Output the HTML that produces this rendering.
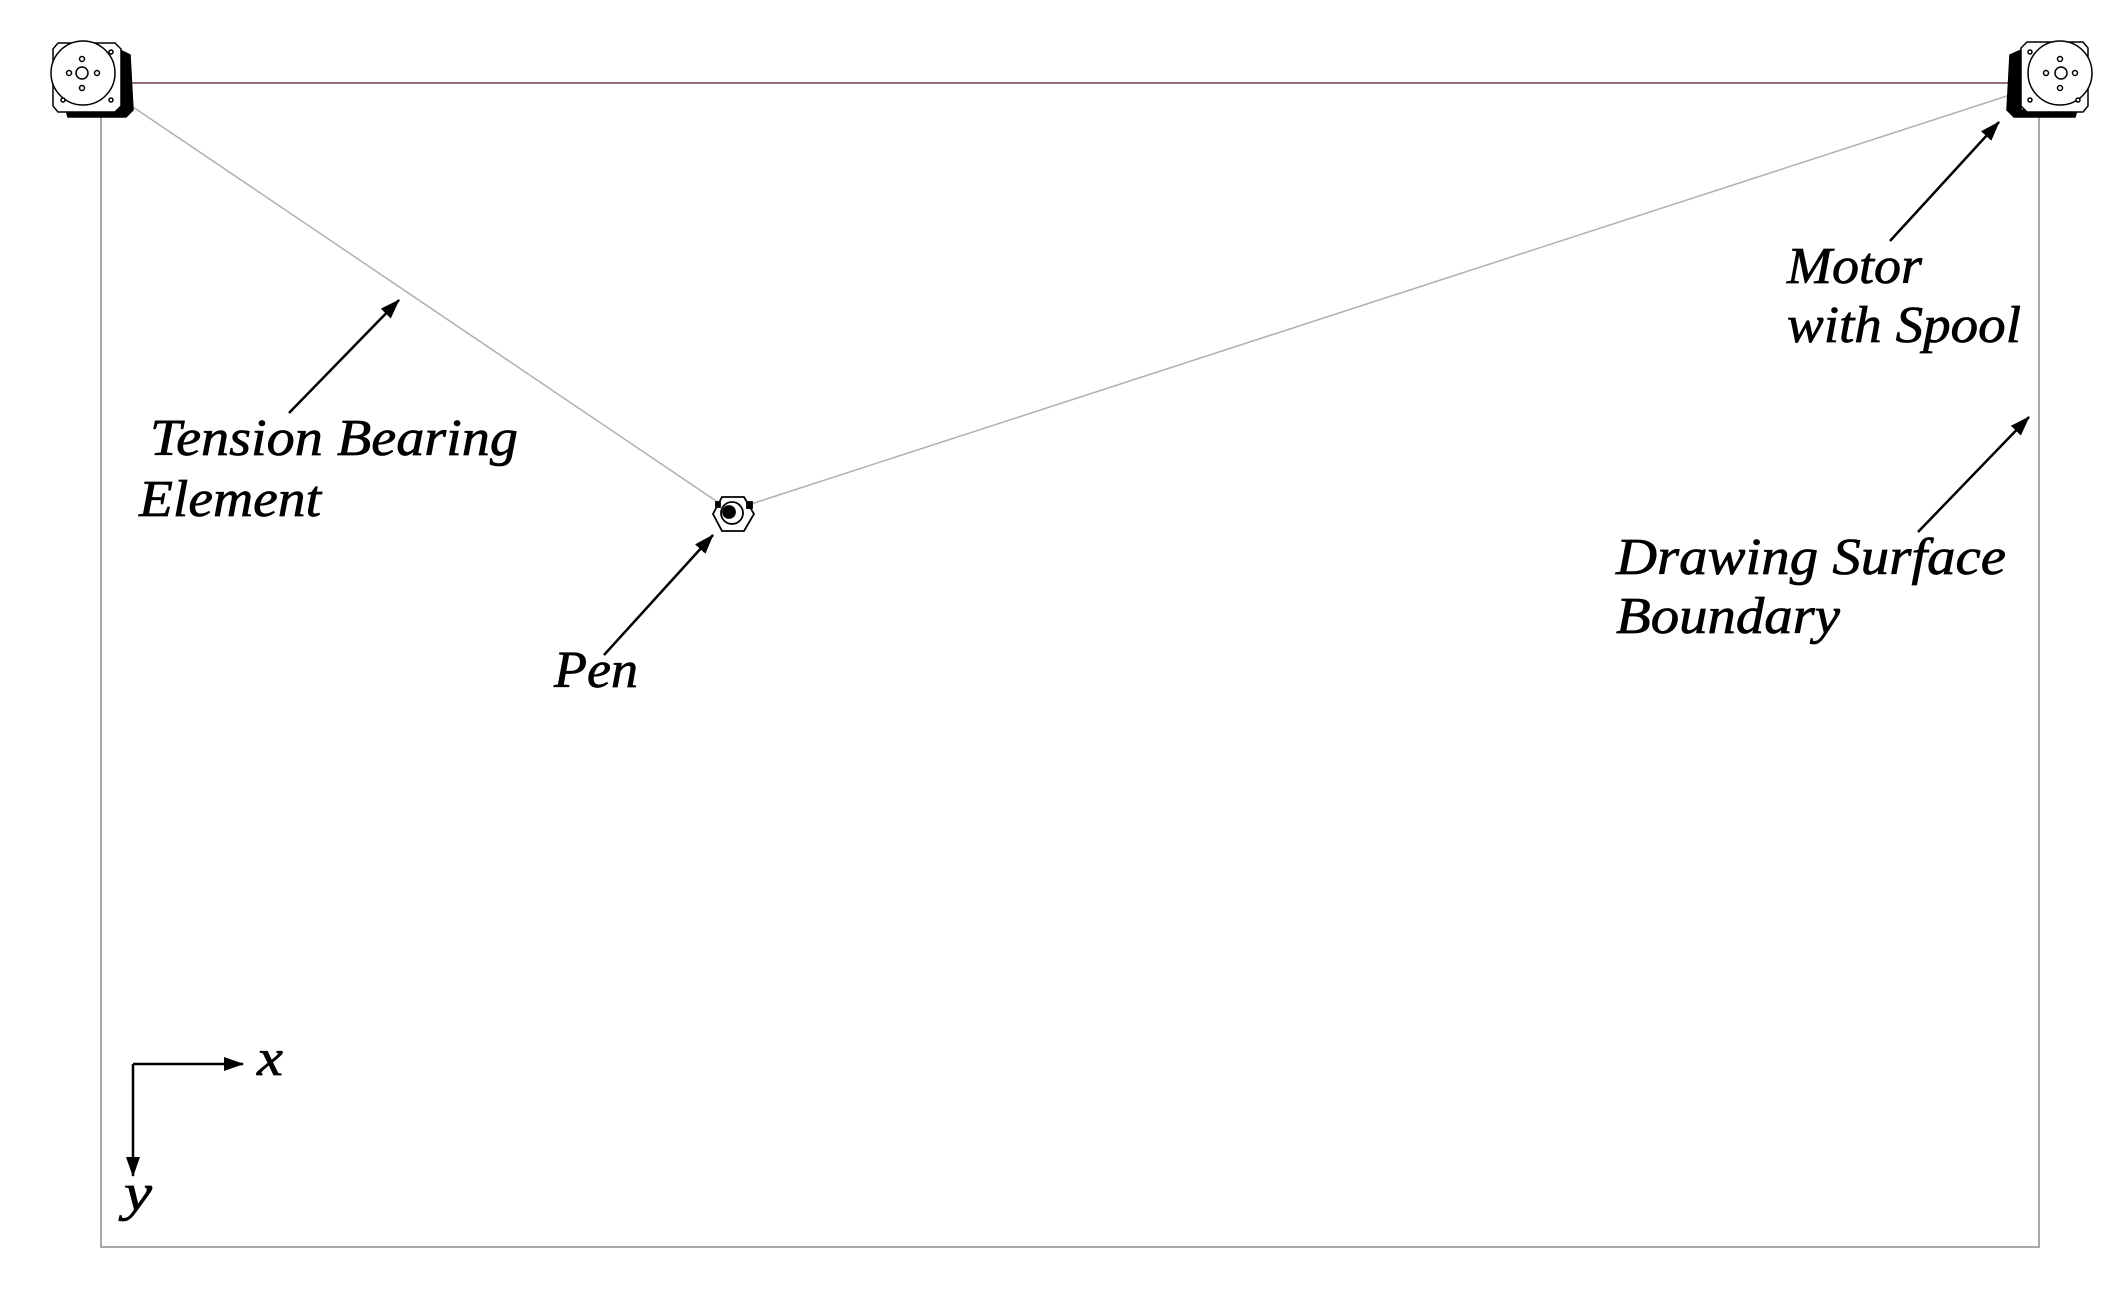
<!DOCTYPE html>
<html><head><meta charset="utf-8"><style>
html,body{margin:0;padding:0;background:#fff;}
svg{display:block;}
text{font-family:"Liberation Serif",serif;font-style:italic;font-size:52px;fill:#000;stroke:#000;stroke-width:0.7;}
</style></head><body>
<svg width="2120" height="1300" viewBox="0 0 2120 1300" xmlns="http://www.w3.org/2000/svg">
<defs>
<marker id="a" viewBox="0 0 20 14" refX="19" refY="7" markerWidth="20" markerHeight="14" orient="auto" markerUnits="userSpaceOnUse"><path d="M0,0 L20,7 L0,14 Z" fill="#000"/></marker>
</defs>
<rect x="101" y="83" width="1938" height="1164" fill="none" stroke="#a8a8a8" stroke-width="2"/>
<line x1="101" y1="83" x2="2039" y2="83" stroke="#8a5a78" stroke-width="1.5"/>
<line x1="133" y1="107" x2="722" y2="505" stroke="#b0b0b0" stroke-width="1.5"/>
<line x1="748" y1="505" x2="2010" y2="95" stroke="#b0b0b0" stroke-width="1.5"/>
<g stroke="#000" fill="#fff" stroke-width="1.5">
<path d="M120,50 L130,55 L133,110 L126,117 L68,117 L66,110 L120,110 Z" fill="#000"/>
<path d="M58,43 L115,43 L121,49 L121,106 L115,112 L58,112 L53,106 L53,49 Z"/>
<circle cx="83" cy="73" r="32"/>
<circle cx="82" cy="73" r="6"/>
<circle cx="82" cy="59" r="2.5"/><circle cx="82" cy="88" r="2.5"/><circle cx="69" cy="73" r="2.5"/><circle cx="97" cy="73" r="2.5"/>
<circle cx="111" cy="52" r="2"/><circle cx="63" cy="100" r="2"/><circle cx="111" cy="100" r="2"/>
</g>
<g stroke="#000" fill="#fff" stroke-width="1.5">
<path d="M2021,50 L2010,55 L2007,110 L2014,117 L2075,117 L2077,110 L2021,110 Z" fill="#000"/>
<path d="M2027,42 L2083,42 L2088,48 L2088,106 L2083,112 L2027,112 L2021,106 L2021,48 Z"/>
<circle cx="2060" cy="73" r="32"/>
<circle cx="2061" cy="73" r="6"/>
<circle cx="2060" cy="59" r="2.5"/><circle cx="2060" cy="88" r="2.5"/><circle cx="2046" cy="73" r="2.5"/><circle cx="2075" cy="73" r="2.5"/>
<circle cx="2030" cy="52" r="2"/><circle cx="2030" cy="100" r="2"/><circle cx="2078" cy="100" r="2"/>
</g>
<g stroke="#000" fill="#fff" stroke-width="1.8">
<path d="M722,497 L744,497 L754,514 L744,531 L722,531 L713,514 Z"/>
<circle cx="732" cy="513" r="11"/>
<circle cx="729" cy="512" r="6" fill="#000"/>
<rect x="747" y="502" width="5" height="6" fill="#000"/>
<rect x="716" y="502" width="4" height="5" fill="#000"/>
</g>
<g stroke="#000" stroke-width="2.5" marker-end="url(#a)">
<line x1="289" y1="413" x2="399" y2="300"/>
<line x1="604" y1="655" x2="713" y2="535"/>
<line x1="1890" y1="241" x2="1999" y2="122"/>
<line x1="1918" y1="532" x2="2029" y2="417"/>
<line x1="133" y1="1064" x2="243" y2="1064"/>
<line x1="133" y1="1064" x2="133" y2="1176"/>
</g>
<text x="150" y="455" textLength="368" lengthAdjust="spacingAndGlyphs">Tension Bearing</text>
<text x="139" y="516" textLength="182" lengthAdjust="spacingAndGlyphs">Element</text>
<text x="554" y="687" textLength="84" lengthAdjust="spacingAndGlyphs">Pen</text>
<text x="1787" y="283" textLength="135" lengthAdjust="spacingAndGlyphs">Motor</text>
<text x="1787" y="342" textLength="234" lengthAdjust="spacingAndGlyphs">with Spool</text>
<text x="1616" y="574" textLength="390" lengthAdjust="spacingAndGlyphs">Drawing Surface</text>
<text x="1616" y="633" textLength="224" lengthAdjust="spacingAndGlyphs">Boundary</text>
<text x="257" y="1075" textLength="26" lengthAdjust="spacingAndGlyphs">x</text>
<text x="124" y="1210" textLength="28" lengthAdjust="spacingAndGlyphs">y</text>
</svg>
</body></html>
